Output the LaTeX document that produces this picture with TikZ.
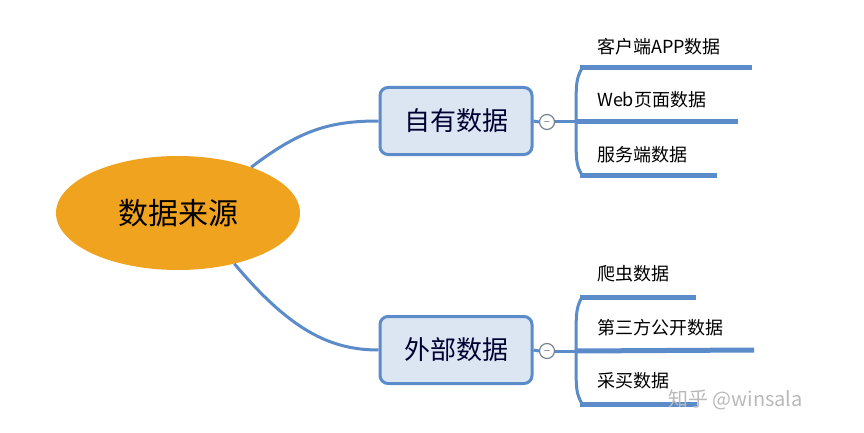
\documentclass[tikz,border=0pt]{standalone}
\usepackage{fontspec}
\usetikzlibrary{shapes.geometric}
\setmainfont{Noto Sans CJK SC}
\definecolor{lb}{HTML}{5B8BC9}
\definecolor{boxfill}{HTML}{DCE6F2}
\definecolor{orng}{HTML}{F0A31E}
\begin{document}
\begin{tikzpicture}[x=1pt,y=-1pt,
  conn/.style={draw=lb,line width=3pt},
  leaf/.style={draw=lb,line width=5pt},
  box/.style={draw=lb,fill=boxfill,line width=3pt,rounded corners=8pt,minimum width=152pt,minimum height=67pt,font=\fontsize{26}{28}\selectfont,text=black!80!blue},
  tog/.style={circle,draw=gray!80!lb,fill=white,line width=1.2pt,minimum size=15pt,inner sep=0pt,font=\fontsize{9}{9}\selectfont},
  lbl/.style={anchor=west,font=\fontsize{18}{20}\selectfont,inner sep=0pt}]
\useasboundingbox (0,0) rectangle (864,433);
\node[ellipse,fill=orng,minimum width=244pt,minimum height=114pt,font=\fontsize{30}{32}\selectfont] (root) at (178,213) {数据来源};
\node[box] (a) at (456,121) {自有数据};
\node[box] (b) at (456,350) {外部数据};
\draw[conn] (root.32) .. controls (300,130) and (330,121) .. (a.west);
\draw[conn] (root.-42) .. controls (290,330) and (330,350) .. (b.west);
\foreach \n/\y in {a/121,b/350}{
  \node[tog] (t\n) at (547,\y+1) {$-$};
  \draw[conn] (\n.east) -- (t\n.west);
  \coordinate (s\n) at (576,\y+1);
  \draw[conn] (t\n.east) -- (s\n);
}
% top leaves
\coordinate (a1) at (752,68); \coordinate (a2) at (738,122); \coordinate (a3) at (717,175);
\draw[conn] (sa) .. controls (576,80) .. (582,68);
\draw[conn] (sa) .. controls (576,164) .. (582,175);
\draw[leaf] (580,68) -- (a1);
\draw[leaf] (sa) -- (a2);
\draw[leaf] (580,175) -- (a3);
\node[lbl] (la1) at (597,47) {客户端APP数据};
\node[lbl] (la2) at (597,100) {Web页面数据};
\node[lbl] (la3) at (597,155) {服务端数据};
% bottom leaves
\coordinate (b1) at (696,297); \coordinate (b2) at (754,350); \coordinate (b3) at (697,404);
\draw[conn] (sb) .. controls (576,309) .. (582,297);
\draw[conn] (sb) .. controls (576,392) .. (582,404);
\draw[leaf] (580,297) -- (b1);
\draw[leaf] (sb) -- (b2);
\draw[leaf] (580,404) -- (b3);
\node[lbl] (lb1) at (597,274) {爬虫数据};
\node[lbl] (lb2) at (597,328) {第三方公开数据};
\node[lbl] (lb3) at (597,381) {采买数据};
\node[anchor=west,text=gray!55,font=\fontsize{20}{22}\selectfont,inner sep=0pt] (wm) at (668,400) {知乎 @winsala};
\end{tikzpicture}
\end{document}
